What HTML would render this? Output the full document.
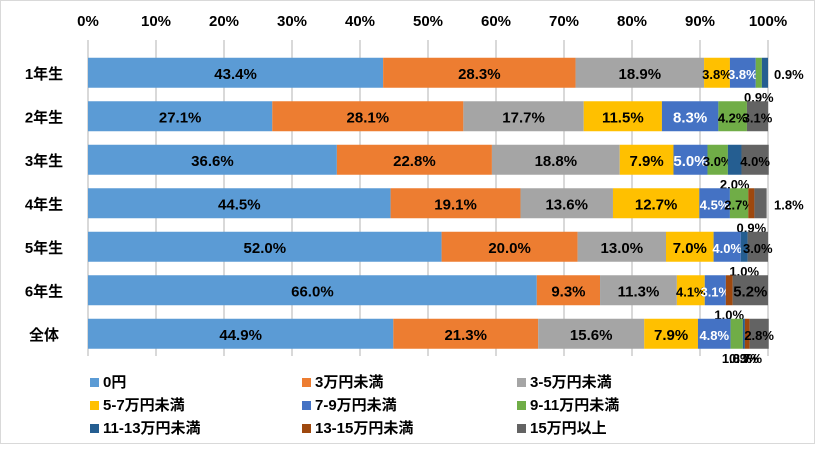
<!DOCTYPE html>
<html><head><meta charset="utf-8"><style>
body{margin:0;background:#fff;font-family:"Liberation Sans","Noto Sans CJK JP",sans-serif}
svg text{font-family:"Liberation Sans","Noto Sans CJK JP",sans-serif}
</style></head><body>
<svg id="c" width="815" height="444">
<rect x="0.5" y="0.5" width="814" height="443" fill="#fff" stroke="#d9d9d9"/>
</svg>
<script>
const categories=["1年生","2年生","3年生","4年生","5年生","6年生","全体"];
const seriesNames=["0円","3万円未満","3-5万円未満","5-7万円未満","7-9万円未満","9-11万円未満","11-13万円未満","13-15万円未満","15万円以上"];
const s0=[43.4,27.1,36.6,44.5,52.0,66.0,44.9];
const s1=[28.3,28.1,22.8,19.1,20.0,9.3,21.3];
const s2=[18.9,17.7,18.8,13.6,13.0,11.3,15.6];
const s3=[3.8,11.5,7.9,12.7,7.0,4.1,7.9];
const s4=[3.8,8.3,5.0,4.5,4.0,3.1,4.8];
const s5=[0.9,4.2,3.0,2.7,0,0,1.8];
const s6=[0.9,0,2.0,0,1.0,0,0.3];
const s7=[0,0,0,0.9,0,1.0,0.7];
const s8=[0,3.1,4.0,1.8,3.0,5.2,2.8];
const ticks=[0,10,20,30,40,50,60,70,80,90,100];
const series=[s0,s1,s2,s3,s4,s5,s6,s7,s8];
const colors=["#5B9BD5","#ED7D31","#A5A5A5","#FFC000","#4472C4","#70AD47","#255E91","#9E480E","#636363"];
const svg=document.getElementById('c');const NS="http://www.w3.org/2000/svg";
const X0=88,X1=768,Y0=51,RH=43.5,BH=30;
const x=v=>X0+(X1-X0)*v/100;
const yc=i=>Y0+RH*i+RH/2;
function mk(t,a){const e=document.createElementNS(NS,t);for(const k in a)e.setAttribute(k,a[k]);svg.appendChild(e);return e;}
ticks.forEach(t=>{
 const g=mk('line',{x1:x(t),x2:x(t),y1:40,y2:356,stroke:'#d9d9d9','stroke-width':2});
 
 
 const l=mk('text',{x:x(t),y:26,'text-anchor':'middle','font-size':15,'font-weight':'bold',fill:'#000'});l.textContent=t+'%';
 
 
});
categories.forEach((c,i)=>{
 const l=mk('text',{x:44,y:yc(i)+6,'text-anchor':'middle','font-size':15,'font-weight':'bold'});l.textContent=c;
 
 
 let acc=0;let lastEnd=0;
 series.forEach((s,j)=>{
  const v=s[i];if(v<=0){return;}
  const r=mk('rect',{x:x(acc),y:yc(i)-BH/2,width:x(acc+v)-x(acc),height:BH,fill:colors[j]});
  
  
  const mid=x(acc+v/2);const isLast=(acc+v)>=99.5;
  let tx=mid,ty=yc(i)+6,fs=15,anchor='middle';
  if(v<2.5){fs=13;
   if(isLast&&j===series.length-1){tx=x(100)+6;anchor='start';}
   else if(isLast){tx=x(100)+6;anchor='start';}
   else{ty=yc(i)+BH/2+14;}
  } else if(v<5){fs=13;}
  const t=mk('text',{x:tx,y:ty,'text-anchor':anchor,'font-size':fs,'font-weight':'bold',fill:j===4?'#fff':'#000'});
  t.textContent=v.toFixed(1)+'%';
  
  
  acc+=v;
 });
});
const lx=[90,302,517];
seriesNames.forEach((n,j)=>{
 const cx=lx[j%3],cy=383+Math.floor(j/3)*23;
 const r=mk('rect',{x:cx,y:cy-5,width:9,height:9,fill:colors[j]});
 
 
 const t=mk('text',{x:cx+13,y:cy+4,'font-size':15,'font-weight':'bold'});t.textContent=n;
 
 
});
</script>
</body></html>
